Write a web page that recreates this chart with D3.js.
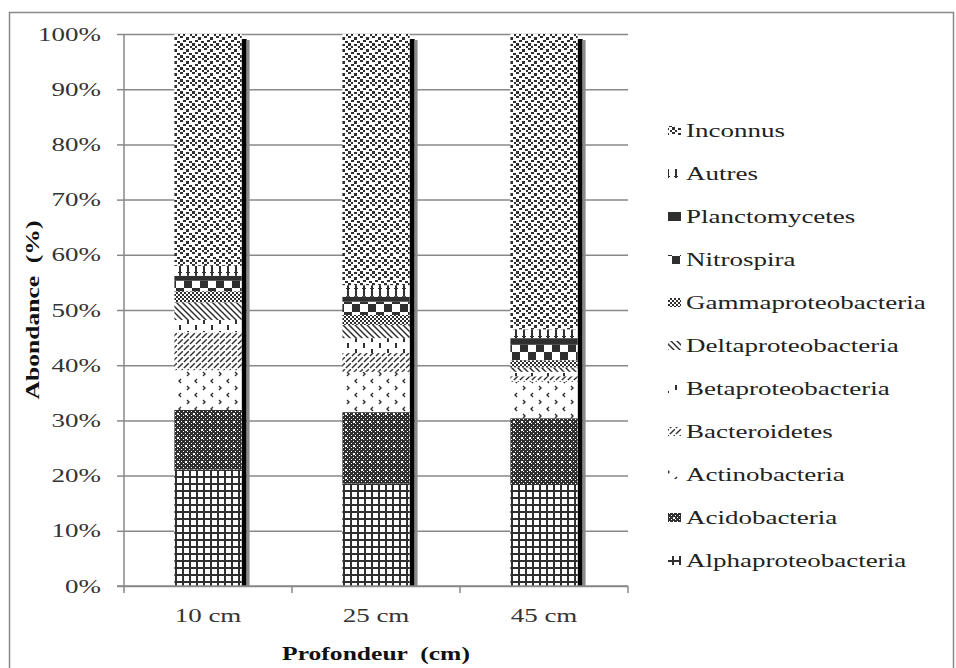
<!DOCTYPE html>
<html>
<head>
<meta charset="utf-8">
<script src="https://cdn.jsdelivr.net/npm/d3@7"></script>
<style>
  html, body { margin: 0; padding: 0; background: #fff; }
  svg { display: block; }
</style>
</head>
<body>
<script>
// ---------- DATA ----------
const categories = ["10 cm", "25 cm", "45 cm"];
const seriesNames = ["Alphaproteobacteria", "Acidobacteria", "Actinobacteria", "Bacteroidetes",
  "Betaproteobacteria", "Deltaproteobacteria", "Gammaproteobacteria", "Nitrospira",
  "Planctomycetes", "Autres", "Inconnus"];
const alphaproteobacteria = [21.1, 18.6, 18.3];
const acidobacteria       = [10.8, 12.9, 12.1];
const actinobacteria      = [7.2, 7.3, 6.6];
const bacteroidetes       = [6.9, 3.4, 1.0];
const betaproteobacteria  = [2.2, 2.7, 0.8];
const deltaproteobacteria = [3.2, 2.4, 0.8];
const gammaproteobacteria = [2.0, 1.8, 1.3];
const nitrospira          = [1.9, 2.4, 2.8];
const planctomycetes      = [0.9, 0.9, 1.2];
const autres              = [1.8, 2.1, 1.6];
const inconnus            = [42.0, 45.5, 53.5];
const yTicks = [0, 10, 20, 30, 40, 50, 60, 70, 80, 90, 100];
const xTitle = "Profondeur  (cm)";
const yTitle = "Abondance  (%)";

const seriesValues = [alphaproteobacteria, acidobacteria, actinobacteria, bacteroidetes,
  betaproteobacteria, deltaproteobacteria, gammaproteobacteria, nitrospira,
  planctomycetes, autres, inconnus];

const rows = categories.map((c, i) => {
  const r = { cat: c };
  seriesNames.forEach((s, j) => r[s] = seriesValues[j][i]);
  return r;
});

// ---------- SETUP ----------
const W = 956, H = 668;
const plot = { left: 124, right: 628, top: 34, bottom: 586 };
const ink = "#2f2f2f";
const grid = "#888888";
const K = 1.42; // horizontal text stretch
const font = "'Liberation Serif', 'Times New Roman', serif";

const svg = d3.select("body").append("svg").attr("width", W).attr("height", H);
const defs = svg.append("defs");

function pat(id, w, h, draw) {
  const p = defs.append("pattern").attr("id", id).attr("patternUnits", "userSpaceOnUse")
    .attr("width", w).attr("height", h);
  p.append("rect").attr("width", w).attr("height", h).attr("fill", "#fff");
  draw(p);
}
function rects(p, list) {
  list.forEach(([x, y, w, h, c]) => p.append("rect").attr("x", x).attr("y", y)
    .attr("width", w).attr("height", h).attr("fill", c || ink));
}
pat("pAlpha", 7, 7, p => rects(p, [[0, 0, 7, 2], [0, 0, 2, 7]]));
pat("pAcido", 8, 8, p => {
  p.append("rect").attr("width", 8).attr("height", 8).attr("fill", ink);
  rects(p, [[1, 1, 1, 1, "#fff"], [5, 1, 1, 1, "#fff"], [3, 3, 1, 1, "#fff"], [7, 3, 1, 1, "#fff"],
    [1, 5, 2, 2, "#fff"], [5, 5, 1, 1, "#fff"], [3, 7, 1, 1, "#fff"], [7, 7, 1, 1, "#fff"]]);
});
pat("pActino", 16, 14, p => {
  p.append("path").attr("d", "M5,1 L3,3 L5,5 M11,8 L13,10 L11,12")
    .attr("fill", "none").attr("stroke", ink).attr("stroke-width", 1.4);
});
pat("pBactero", 6, 6, p => {
  p.append("path").attr("d", "M0,6 L6,0 M-1,1 L1,-1 M5,7 L7,5")
    .attr("stroke", ink).attr("stroke-width", 1.4).attr("stroke-dasharray", "4,1.5");
});
pat("pBeta", 16, 12, p => rects(p, [[3, 1, 2, 5], [11, 7, 2, 5]]));
pat("pDelta", 6, 6, p => {
  p.append("path").attr("d", "M0,0 L6,6 M5,-1 L7,1 M-1,5 L1,7")
    .attr("stroke", ink).attr("stroke-width", 1.5);
});
pat("pGamma", 4, 4, p => rects(p, [[0, 0, 2, 2], [2, 2, 2, 2]]));
pat("pNitro", 16, 16, p => rects(p, [[0, 0, 8, 8], [8, 8, 8, 8]]));
pat("pPlancto", 4, 4, p => rects(p, [[0, 0, 4, 4]]));
pat("pAutres", 8, 8, p => rects(p, [[3, 1, 2, 7], [2, 0, 4, 1]]));
pat("pInconnus", 12, 12, p => rects(p, [[0, 0, 3, 2], [6, 1, 3, 3], [3, 4, 3, 2], [9, 5, 3, 2],
  [0, 7, 3, 3], [6, 8, 3, 2], [3, 10, 2, 2], [10, 10, 2, 2]]));
const patternIds = ["pAlpha", "pAcido", "pActino", "pBactero", "pBeta", "pDelta", "pGamma",
  "pNitro", "pPlancto", "pAutres", "pInconnus"];

// outer border
svg.append("rect").attr("x", 9.5).attr("y", 12.5).attr("width", 944).attr("height", 700)
  .attr("fill", "none").attr("stroke", grid).attr("stroke-width", 1.5);

// scales
const x = d3.scaleBand().domain(categories).range([plot.left, plot.right])
  .paddingInner(0.6).paddingOuter(0.3);
const y = d3.scaleLinear().domain([0, 100]).range([plot.bottom, plot.top]);

// gridlines
svg.append("g").attr("transform", `translate(${plot.left},0)`)
  .call(d3.axisLeft(y).tickValues(yTicks).tickSize(-(plot.right - plot.left)).tickFormat(""))
  .call(g => g.select(".domain").remove())
  .call(g => g.selectAll("line").attr("stroke", grid).attr("stroke-width", 1.5));

// bars
const stack = d3.stack().keys(seriesNames)(rows);
const bw = x.bandwidth();
// shadows
categories.forEach(c => {
  svg.append("rect").attr("x", x(c) + bw).attr("y", y(100) + 5)
    .attr("width", 5).attr("height", y(0) - y(100) - 5).attr("fill", "#000");
  svg.append("rect").attr("x", x(c) + bw + 5).attr("y", y(100) + 6)
    .attr("width", 3).attr("height", y(0) - y(100) - 6).attr("fill", "#8a8a8a");
});
stack.forEach((layer, i) => {
  svg.append("g").selectAll("rect").data(layer).join("rect")
    .attr("x", d => x(d.data.cat))
    .attr("y", d => y(d[1]))
    .attr("width", bw)
    .attr("height", d => y(d[0]) - y(d[1]))
    .attr("fill", `url(#${patternIds[i]})`);
});

// y axis
const yAxis = svg.append("g").attr("transform", `translate(${plot.left},0)`)
  .call(d3.axisLeft(y).tickValues(yTicks).tickFormat(d => d + "%").tickSize(7).tickPadding(16));
yAxis.select(".domain").attr("stroke", grid).attr("stroke-width", 1.5).attr("d", `M0,${plot.bottom}V${plot.top}`);
yAxis.selectAll("line").attr("stroke", grid).attr("stroke-width", 1.5);
yAxis.selectAll("text")
  .attr("x", -23 / K).attr("transform", `scale(${K},1)`)
  .style("font-family", font).style("font-size", "19px").attr("fill", "#333");

// x axis
const xAxis = svg.append("g").attr("transform", `translate(0,${plot.bottom})`)
  .call(d3.axisBottom(x).tickSize(0).tickPadding(23));
xAxis.select(".domain").attr("stroke", grid).attr("stroke-width", 1.5)
  .attr("d", `M${plot.left - 7},0H${plot.right}`);
xAxis.selectAll("text").attr("transform", `scale(${K},1)`)
  .style("font-family", font).style("font-size", "19px").attr("fill", "#333");
const boundaries = d3.range(categories.length + 1).map(i => x.range()[0] + i * x.step());
xAxis.selectAll(".bnd").data(boundaries).join("line").attr("class", "bnd")
  .attr("x1", d => d).attr("x2", d => d).attr("y1", 0).attr("y2", 7)
  .attr("stroke", grid).attr("stroke-width", 1.5);

// titles
svg.append("text").attr("transform", `translate(${(plot.left + plot.right) / 2},660) scale(${K},1)`)
  .attr("text-anchor", "middle").style("white-space", "pre")
  .style("font-family", font).style("font-size", "18px").style("font-weight", "bold")
  .attr("fill", "#111").text(xTitle);
svg.append("text").attr("transform", `translate(39,${(plot.top + plot.bottom) / 2}) rotate(-90) scale(${K},1)`)
  .attr("text-anchor", "middle").style("white-space", "pre")
  .style("font-family", font).style("font-size", "18px").style("font-weight", "bold")
  .attr("fill", "#111").text(yTitle);

// legend
const legend = svg.append("g");
const legendItems = seriesNames.map((s, i) => ({ name: s, pid: patternIds[i] })).reverse();
legendItems.forEach((d, i) => {
  const cy = 130 + i * 43;
  legend.append("rect").attr("x", 668).attr("y", cy - 4).attr("width", 13).attr("height", 9)
    .attr("fill", `url(#${d.pid})`);
  legend.append("text").attr("transform", `translate(686,${cy}) scale(${K},1)`)
    .attr("dy", "0.35em")
    .style("font-family", font).style("font-size", "19px").attr("fill", "#222").text(d.name);
});
</script>
</body>
</html>
